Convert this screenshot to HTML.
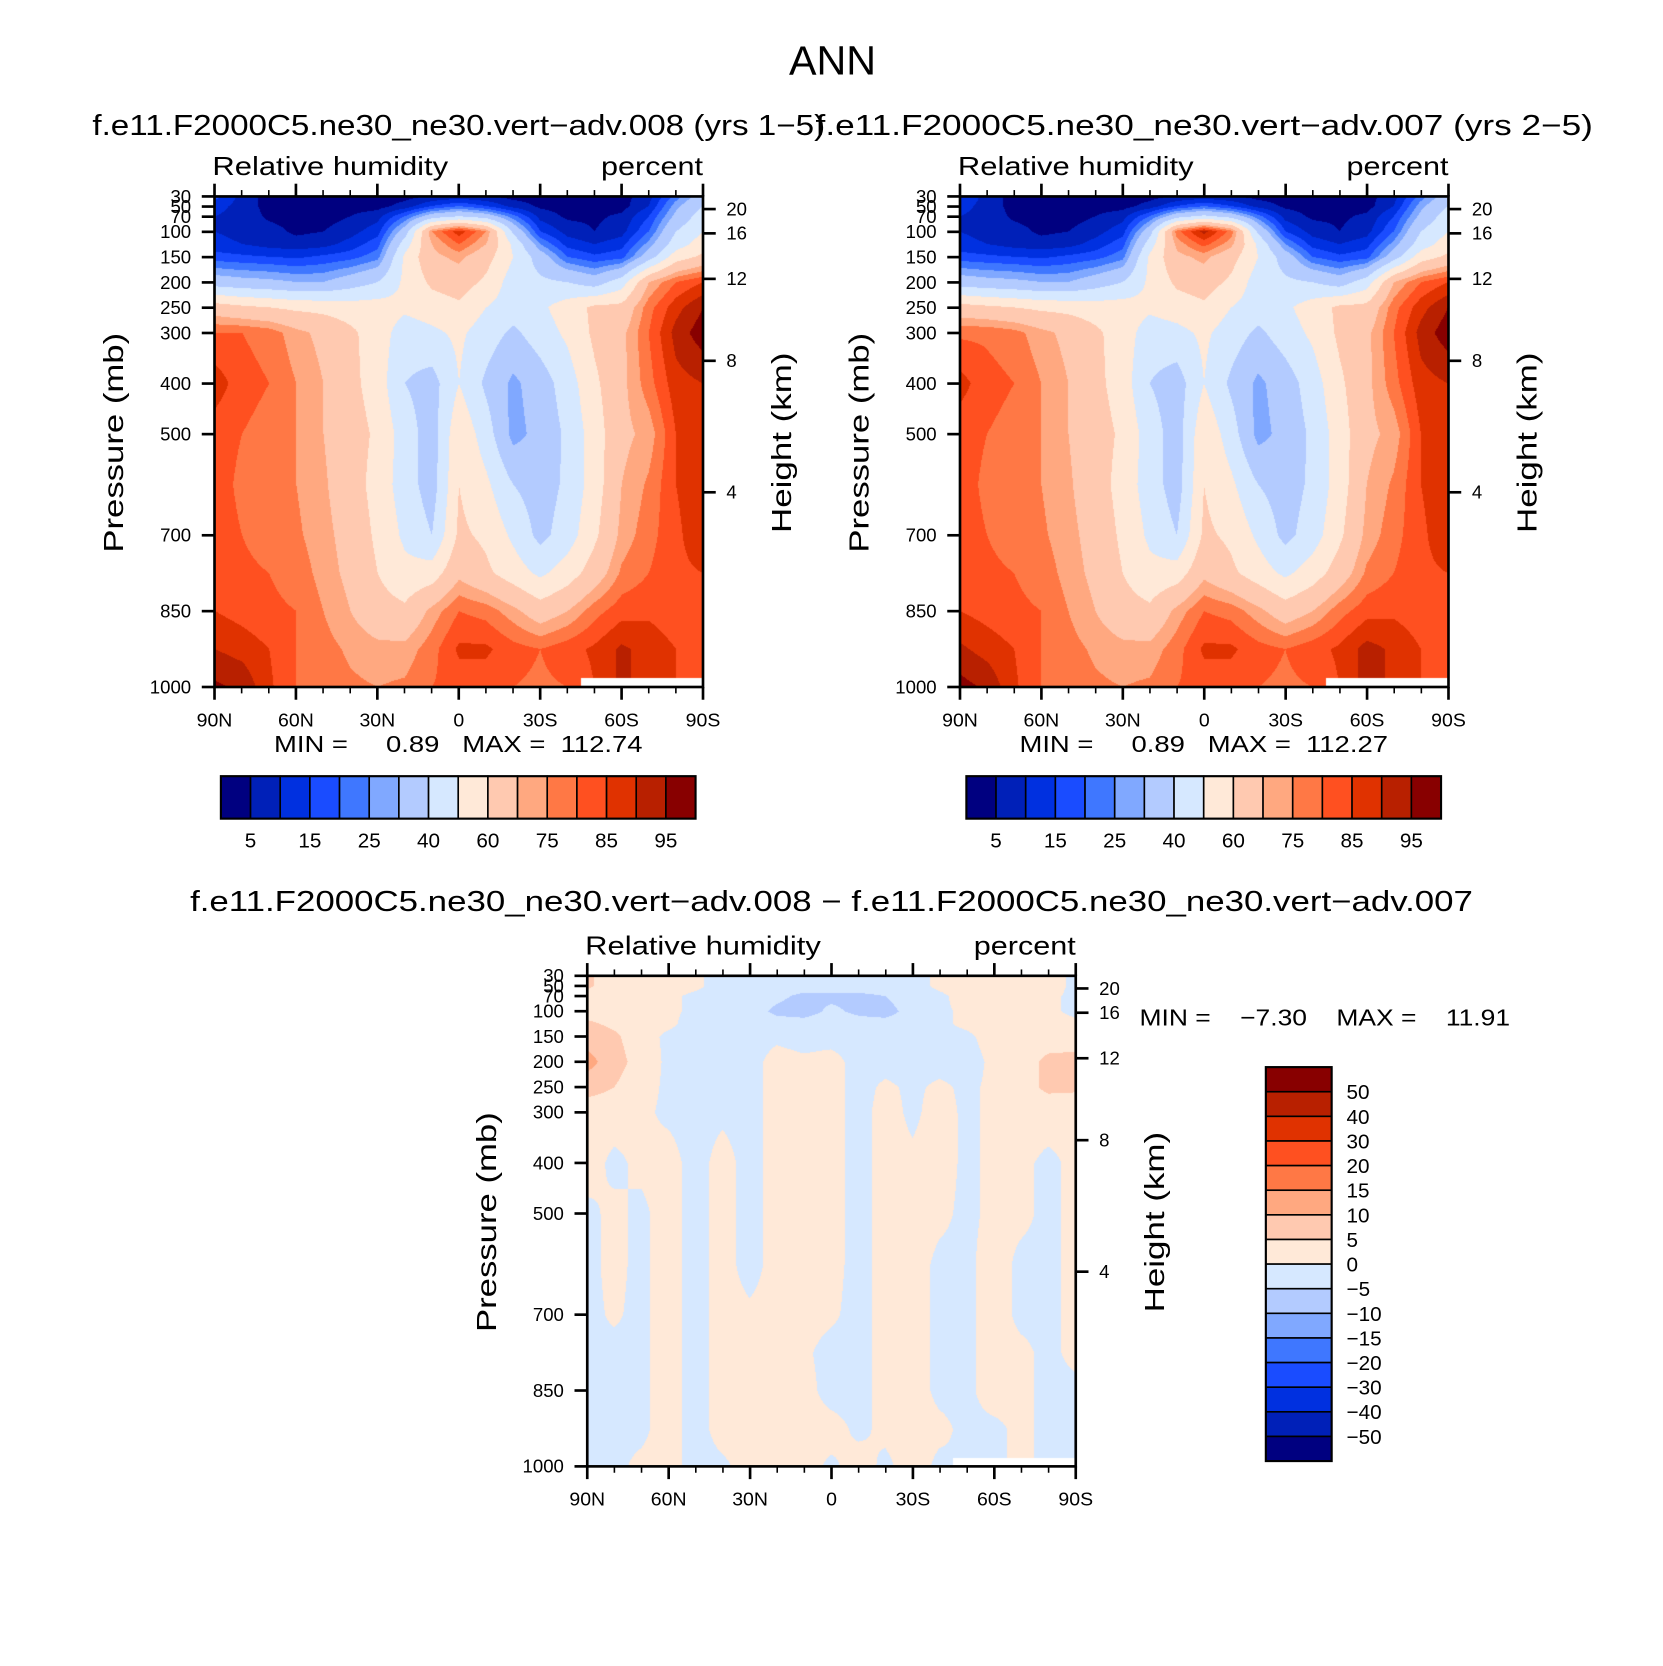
<!DOCTYPE html>
<html><head><meta charset="utf-8"><style>
html,body{margin:0;padding:0;background:#fff;}
#wrap{position:relative;width:1663px;height:1666px;overflow:hidden;background:#fff;}
canvas{position:absolute;}
svg{position:absolute;left:0;top:0;}
text{font-family:"Liberation Sans",sans-serif;fill:#000;}
</style></head><body>
<div id="wrap">
<canvas id="c1"></canvas>
<canvas id="c2"></canvas>
<canvas id="c3"></canvas>
<svg id="svg" width="1663" height="1666" viewBox="0 0 1566 1569" preserveAspectRatio="none"></svg>
</div>
<script>
// ---------- data ----------
const levels = [30,50,70,100,125,150,200,250,300,400,500,600,700,775,850,925,1000];
const lats = ['90N','80N','70N','60N','50N','40N','30N','20N','10N','0','10S','20S','30S','40S','50S','60S','70S','80S','90S'];
const rhLevels = [5,10,15,20,25,30,40,50,60,70,75,80,85,90,95];
const rhLabels = ['5','15','25','40','60','75','85','95'];
const diffLevels = [-50,-40,-30,-20,-15,-10,-5,0,5,10,15,20,30,40,50];
const diffLabels = ['50','40','30','20','15','10','5','0','−5','−10','−15','−20','−30','−40','−50'];
const palette = ['#000080','#0020b8','#0030e0','#1a4cff','#3f77ff','#80a8ff','#b3cbff','#d6e8ff','#ffe9d8','#ffc9b0','#ffa880','#ff7845','#ff5020','#e03200','#b82000','#880000'];
const pressTicks = [30,50,70,100,150,200,250,300,400,500,700,850,1000];
const heightTicks = ['20','16','12','8','4'];
const heightPress = [55,103,193,355,615];
const latTickLabels = ['90N','60N','30N','0','30S','60S','90S'];

const rh008 = [
[17,8,3,3,3,3,3,3,5,6,5,3,3,3,3,3,8,22,35],
[12,8,3,3,3,3,3,7,15,20,15,8,4,3,3,3,10,28,40],
[10,8,4,3,3,5,8,20,35,40,35,22,8,4,4,6,15,32,45],
[10,8,7,4,5,8,13,35,75,88,75,38,15,8,5,8,20,40,50],
[12,10,8,7,8,12,18,45,70,80,70,48,25,13,10,13,27,45,55],
[17,16,15,14,16,18,23,52,68,72,64,50,35,20,16,18,35,55,62],
[35,33,32,30,30,35,40,52,62,65,58,45,42,40,35,45,70,80,85],
[65,62,60,58,57,55,55,52,55,58,50,45,48,55,62,63,78,88,95],
[80,80,78,72,68,62,55,45,48,52,45,38,45,52,62,68,80,92,98],
[88,82,80,75,70,63,55,40,36,50,38,28,35,45,58,68,78,88,90],
[82,80,78,75,70,65,58,45,35,58,45,27,33,42,55,68,72,85,90],
[82,79,77,75,71,65,56,45,35,60,52,40,35,42,55,70,76,85,88],
[82,80,78,76,72,67,58,48,40,62,58,48,37,45,58,72,78,84,88],
[83,81,80,78,73,68,60,53,55,68,62,55,48,55,65,76,80,84,85],
[85,83,81,80,75,70,64,62,72,80,78,72,65,70,78,83,84,82,82],
[90,88,85,80,77,74,72,72,78,86,86,82,80,83,86,91,88,85,84],
[96,94,86,80,78,76,75,76,80,82,82,80,79,80,null,null,null,null,null]
];
const rh007 = [
[15,8,3,3,3,3,3,3,5,6,5,3,3,3,3,3,8,22,35],
[12,8,3,3,3,3,3,7,15,20,15,8,4,3,3,3,10,28,40],
[10,8,4,3,3,5,8,20,36,42,36,22,8,4,4,6,15,32,45],
[10,8,7,4,5,8,13,36,78,92,78,38,15,8,5,8,20,40,50],
[12,10,8,7,8,12,18,45,72,82,72,48,25,13,10,13,27,45,55],
[17,16,15,14,16,18,23,52,68,72,64,50,35,20,16,18,35,55,62],
[35,33,32,30,30,35,40,52,62,65,58,45,42,40,35,45,70,80,85],
[64,62,60,58,57,55,55,52,55,58,50,45,48,55,62,63,78,88,95],
[79,79,77,72,68,62,55,45,47,52,45,38,45,52,62,68,80,92,98],
[87,82,80,75,70,63,55,40,35,50,38,28,35,45,58,68,78,88,90],
[82,80,78,75,70,65,58,45,35,58,45,27,33,42,55,68,72,85,90],
[82,79,77,75,71,65,56,45,35,60,52,40,35,42,55,70,76,85,88],
[82,80,78,76,72,67,58,48,40,62,58,48,37,45,58,72,78,84,88],
[83,81,80,78,73,68,60,53,55,68,62,55,48,55,65,76,80,84,85],
[85,83,81,80,75,70,64,62,72,80,78,72,65,70,78,83,84,82,82],
[91,88,85,80,77,74,72,72,78,86,86,82,80,83,86,92,89,85,84],
[97,94,86,80,78,76,75,76,80,82,82,80,79,80,null,null,null,null,null]
];
const rhDiff = [
[6,2,2,2,1,-2,-2,-2,-2,-2,-2,-2,-2,1,2,2,2,2,-1],
[6,2,2,2,1,-2,-2,-3,-3,-3,-3,-3,-2,1,2,2,2,2,-1],
[3,2,2,1,-1,-2,-2,-4,-6,-6,-6,-5,-2,-1,2,2,2,1,-1],
[3,2,2,1,-1,-2,-3,-6,-7,-4,-6,-7,-3,-1,1,2,2,1,-1],
[6,4,2,1,-2,-2,-2,-3,-3,-2,-3,-3,-2,-1,1,2,2,2,1],
[8,6,2,-1,-2,-2,-2,-1,-2,-2,-2,-2,-2,-2,-1,2,2,3,2],
[12,7,3,-1,-2,-2,-2,2,1,2,-2,-2,-2,-2,-2,1,3,6,7],
[7,5,2,-1,-2,-2,-2,2,2,2,-2,1,-1,1,-1,1,3,6,6],
[2,2,1,-1,-2,-1,-2,2,2,2,-2,2,-1,2,-1,1,2,2,1],
[2,-1,1,2,-2,2,-2,2,2,2,-2,2,1,2,-1,1,1,-1,1],
[-1,1,-1,2,-2,2,-2,2,2,2,-2,2,2,1,-1,1,1,-1,1],
[-1,1,-1,2,-2,2,-2,2,2,2,-2,2,2,-1,-1,2,-1,-1,1],
[-1,0.5,-1,2,-2,2,1,2,2,1,-2,2,2,-1,-1,2,-1,-1,1],
[-1,-1,-1,2,-2,2,2,2,1,-2,-2,2,2,-1,-1,2,1,-1,1],
[-1,-1,-1,2,-2,2,2,2,2,-2,-2,2,2,-1,-1,2,1,-1,-1],
[-1,-1,-1,2,-2,2,2,2,2,2,-1,1,2,1,-1,-1,1,-1,-1],
[-1,-1,1,2,-2,-1,2,1,2,-1,2,-1,2,-1,null,null,null,null,null]
];

// ---------- layout (viewBox units) ----------
const SX = 1663/1566, SY = 1666/1569;
const panels = [
 {id:'c1', x0:202, y0:185, data:rh008, bounds:rhLevels},
 {id:'c2', x0:904, y0:185, data:rh007, bounds:rhLevels},
 {id:'c3', x0:553, y0:919, data:rhDiff, bounds:diffLevels}
];
const PW = 460, PH = 462;

function levelPos(p){
  for (let k=0;k<levels.length-1;k++){
    if (p<=levels[k+1]) return k + (p-levels[k])/(levels[k+1]-levels[k]);
  }
  return levels.length-1;
}
function colorIndex(v,b){ let i=0; while(i<b.length && v>=b[i]) i++; return i; }
function hex(c){ return [parseInt(c.slice(1,3),16),parseInt(c.slice(3,5),16),parseInt(c.slice(5,7),16)]; }
const palRGB = palette.map(hex);

panels.forEach(pn=>{
  const cv = document.getElementById(pn.id);
  const W = Math.round(PW*SX), H = Math.round(PH*SY);
  cv.width=W; cv.height=H;
  cv.style.left=(pn.x0*SX)+'px'; cv.style.top=(pn.y0*SY)+'px';
  cv.style.width=W+'px'; cv.style.height=H+'px';
  const ctx=cv.getContext('2d');
  const img=ctx.createImageData(W,H);
  const nc=lats.length-1;
  const last=levels.length-1;
  for(let py=0;py<H;py++){
    const p=30+(py+0.5)/H*970;
    const lk=levelPos(p);
    let k=Math.min(Math.floor(lk),levels.length-2); const t=lk-k;
    for(let px=0;px<W;px++){
      const u=(px+0.5)/W*nc;
      let i=Math.min(Math.floor(u),nc-1); const s=u-i;
      const o=(py*W+px)*4;
      const ni=Math.round(u);
      if(lk>last-0.25 && pn.data[last][ni]===null){ img.data[o+3]=0; continue; }
      const c=[[pn.data[k][i],(1-s)*(1-t)],[pn.data[k][i+1],s*(1-t)],[pn.data[k+1][i],(1-s)*t],[pn.data[k+1][i+1],s*t]];
      let sw=0,sv=0; c.forEach(e=>{ if(e[0]!==null){sw+=e[1];sv+=e[0]*e[1];} });
      const v=sw>0?sv/sw:0;
      const rgb=palRGB[colorIndex(v,pn.bounds)];
      img.data[o]=rgb[0];img.data[o+1]=rgb[1];img.data[o+2]=rgb[2];img.data[o+3]=255;
    }
  }
  ctx.putImageData(img,0,0);
});

// ---------- SVG overlay ----------
const NS='http://www.w3.org/2000/svg';
const svg=document.getElementById('svg');
function el(tag,attrs,parent){ const e=document.createElementNS(NS,tag); for(const k in attrs) e.setAttribute(k,attrs[k]); (parent||svg).appendChild(e); return e; }
function txt(str,x,y,size,anchor,name,extra){
  const t=el('text',Object.assign({x:x,y:y,'font-size':size,'text-anchor':anchor||'start'},extra||{}));
  t.textContent=str;
  
  
  t.style.whiteSpace='pre';
  return t;
}
function yOf(y0,p){ return y0+(p-30)/970*PH; }
function xOf(x0,deg){ return x0+deg/180*PW; }

function drawAxes(x0,y0,pfx){
  const g=el('g',{});
  
  
  el('rect',{x:x0,y:y0,width:PW,height:PH,fill:'none',stroke:'#000','stroke-width':2.5},g);
  for(let d=0;d<=180;d+=10){
    const x=xOf(x0,d), maj=d%30===0, L=maj?12:6;
    el('line',{x1:x,y1:y0,x2:x,y2:y0-L,stroke:'#000','stroke-width':maj?2.5:1.5},g);
    el('line',{x1:x,y1:y0+PH,x2:x,y2:y0+PH+L,stroke:'#000','stroke-width':maj?2.5:1.5},g);
  }
  latTickLabels.forEach((l,j)=>{ txt(l,xOf(x0,j*30),y0+PH+37,17,'middle',pfx+'-x-tick-label',{transform:`translate(${xOf(x0,j*30)},0) scale(1.08,1) translate(${-xOf(x0,j*30)},0)`}); });
  pressTicks.forEach(p=>{
    const y=yOf(y0,p);
    el('line',{x1:x0,y1:y,x2:x0-12,y2:y,stroke:'#000','stroke-width':2.5},g);
    txt(String(p),x0-22,y+6,17.5,'end',pfx+'-y-tick-label');
  });
  heightTicks.forEach((h,j)=>{
    const y=yOf(y0,heightPress[j]);
    el('line',{x1:x0+PW,y1:y,x2:x0+PW+12,y2:y,stroke:'#000','stroke-width':2.5},g);
    txt(h,x0+PW+22,y+6,17.5,'start',pfx+'-right-tick-label');
  });
  txt('Relative humidity',x0-2,y0-20,24,'start',pfx+'-variable-label',{textLength:222,lengthAdjust:'spacingAndGlyphs'});
  txt('percent',x0+PW,y0-20,24,'end',pfx+'-units-label',{textLength:96,lengthAdjust:'spacingAndGlyphs'});
  txt('Pressure (mb)',0,0,26,'middle',pfx+'-y-axis-title',{transform:`translate(${x0-86},${y0+232}) rotate(-90)`,textLength:207,lengthAdjust:'spacingAndGlyphs'});
  txt('Height (km)',0,0,26,'middle',pfx+'-right-axis-title',{transform:`translate(${x0+PW+83},${y0+232}) rotate(-90)`,textLength:170,lengthAdjust:'spacingAndGlyphs'});
}

txt('ANN',784,70,38,'middle','figure-title',{textLength:82,lengthAdjust:'spacingAndGlyphs'});
txt('f.e11.F2000C5.ne30_ne30.vert−adv.008 (yrs 1−5)',432,127,27,'middle','panel1-title',{textLength:690,lengthAdjust:'spacingAndGlyphs'});
txt('f.e11.F2000C5.ne30_ne30.vert−adv.007 (yrs 2−5)',1134,127,27,'middle','panel2-title',{textLength:732,lengthAdjust:'spacingAndGlyphs'});
txt('f.e11.F2000C5.ne30_ne30.vert−adv.008 − f.e11.F2000C5.ne30_ne30.vert−adv.007',783,858,27,'middle','diff-title',{textLength:1208,lengthAdjust:'spacingAndGlyphs'});

drawAxes(202,185,'panel1');
drawAxes(904,185,'panel2');
drawAxes(553,919,'diff');

txt('MIN =     0.89   MAX =  112.74',258,708,22,'start','panel1-min-max',{textLength:347,lengthAdjust:'spacingAndGlyphs'});
txt('MIN =     0.89   MAX =  112.27',960,708,22,'start','panel2-min-max',{textLength:347,lengthAdjust:'spacingAndGlyphs'});
txt('MIN =    −7.30    MAX =    11.91',1073,966,22,'start','diff-min-max',{textLength:349,lengthAdjust:'spacingAndGlyphs'});

function hbar(x0,pfx){
  const w=(655-208)/palette.length;
  palette.forEach((c,i)=>{
    const r=el('rect',{x:x0+i*w,y:731,width:w,height:40,fill:c,stroke:'#000','stroke-width':1.5});
    
    
  });
  el('rect',{x:x0,y:731,width:w*palette.length,height:40,fill:'none',stroke:'#000','stroke-width':2});
  rhLabels.forEach((l,j)=>{ txt(l,x0+(2*j+1)*w,798,19.5,'middle',pfx+'-colorbar-label'); });
}
hbar(208,'panel1');
hbar(910,'panel2');

(function(){
  const x0=1192,y0=1005,h=(1376-1005)/palette.length;
  for(let i=0;i<palette.length;i++){
    const r=el('rect',{x:x0,y:y0+i*h,width:62,height:h,fill:palette[palette.length-1-i],stroke:'#000','stroke-width':1.5});
    
    
  }
  el('rect',{x:x0,y:y0,width:62,height:h*palette.length,fill:'none',stroke:'#000','stroke-width':2});
  diffLabels.forEach((l,j)=>{ txt(l,1268,y0+(j+1)*h+7,19.5,'start','diff-colorbar-label'); });
})();
</script>
</body></html>
